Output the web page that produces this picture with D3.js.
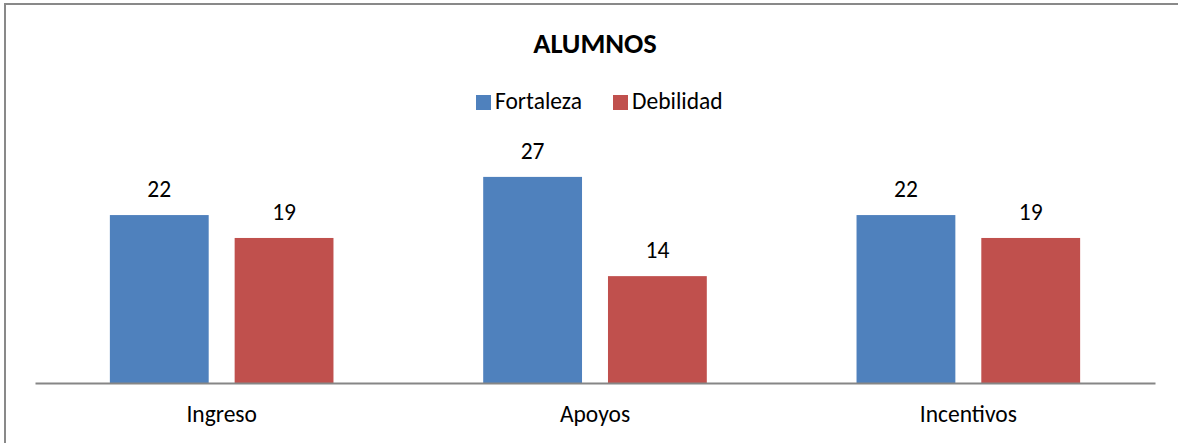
<!DOCTYPE html>
<html>
  <head>
    <meta charset="utf-8">
    <title>Alumnos</title>
    <script src="https://d3js.org/d3.v7.min.js"></script>
    <style>
      body { margin: 0; background: #fff; }
      text { font-family: Calibri, Carlito, "Liberation Sans", Arial, sans-serif; fill: #000; }
    </style>
  </head>
  <body>
    <script>
      // data
      var categories = ["Ingreso", "Apoyos", "Incentivos"];
      var seriesNames = ["Fortaleza", "Debilidad"];
      var fortaleza = [22, 27, 22];
      var debilidad = [19, 14, 19];
      var colors = ["#4F81BD", "#C0504D"];

      var W = 1178, H = 443;
      var plot = {left: 35, right: 1155, top: 154, bottom: 383};
      var fs = "23.5px";

      var svg = d3.select("body").append("svg")
                  .attr("width", W)
                  .attr("height", H);

      // outer frame (only top and left edges show in the picture)
      svg.append("rect")
         .attr("x", 5).attr("y", 4)
         .attr("width", W + 10).attr("height", H + 10)
         .attr("fill", "none")
         .attr("stroke", "#898989")
         .attr("stroke-width", 2);

      var rows = categories.map(function(c, i) {
        return {cat: c, values: [fortaleza[i], debilidad[i]]};
      });

      var x0 = d3.scaleBand()
                 .domain(categories)
                 .range([plot.left, plot.right])
                 .padding(0);

      var x1 = d3.scaleBand()
                 .domain(seriesNames)
                 .range([0, x0.bandwidth()])
                 .paddingInner(0.208)
                 .paddingOuter(0.6);

      var y = d3.scaleLinear()
                .domain([0, 30])
                .range([plot.bottom, plot.top]);

      var color = d3.scaleOrdinal().domain(seriesNames).range(colors);

      // bars
      var groups = svg.selectAll(".cat")
         .data(rows)
         .enter()
         .append("g")
         .attr("class", "cat")
         .attr("transform", function(d) { return "translate(" + x0(d.cat) + ",0)"; });

      var cells = groups.selectAll(".bar")
         .data(function(d) {
           return d.values.map(function(v, j) { return {name: seriesNames[j], value: v}; });
         })
         .enter();

      cells.append("rect")
         .attr("class", "bar")
         .attr("x", function(d) { return x1(d.name); })
         .attr("width", x1.bandwidth())
         .attr("y", function(d) { return y(d.value); })
         .attr("height", function(d) { return y(0) - y(d.value); })
         .attr("fill", function(d) { return color(d.name); });

      // value labels
      cells.append("text")
         .attr("x", function(d) { return x1(d.name) + x1.bandwidth() / 2; })
         .attr("y", function(d) { return y(d.value) - 18; })
         .attr("text-anchor", "middle")
         .style("font-size", fs)
         .text(function(d) { return d.value; });

      // x axis
      var xAxis = svg.append("g")
         .attr("transform", "translate(0," + plot.bottom + ")")
         .call(d3.axisBottom(x0).tickSize(0).tickPadding(0));
      xAxis.select(".domain")
         .attr("stroke", "#868686")
         .attr("stroke-width", 2);
      xAxis.selectAll(".tick text")
         .attr("y", 39)
         .attr("dy", 0)
         .style("font-size", fs)
         .style("font-family", null);

      // title
      svg.append("text")
         .attr("x", 595)
         .attr("y", 53)
         .attr("text-anchor", "middle")
         .style("font-size", "28.5px")
         .style("font-weight", "bold")
         .text("ALUMNOS");

      // legend
      var legendX = [476, 613];
      var legend = svg.selectAll(".legend")
         .data(seriesNames)
         .enter()
         .append("g")
         .attr("class", "legend")
         .attr("transform", function(d, i) { return "translate(" + legendX[i] + ",95)"; });

      legend.append("rect")
         .attr("width", 15)
         .attr("height", 15)
         .attr("fill", function(d) { return color(d); });

      legend.append("text")
         .attr("x", 19)
         .attr("y", 14)
         .style("font-size", fs)
         .text(function(d) { return d; });
    </script>
  </body>
</html>
